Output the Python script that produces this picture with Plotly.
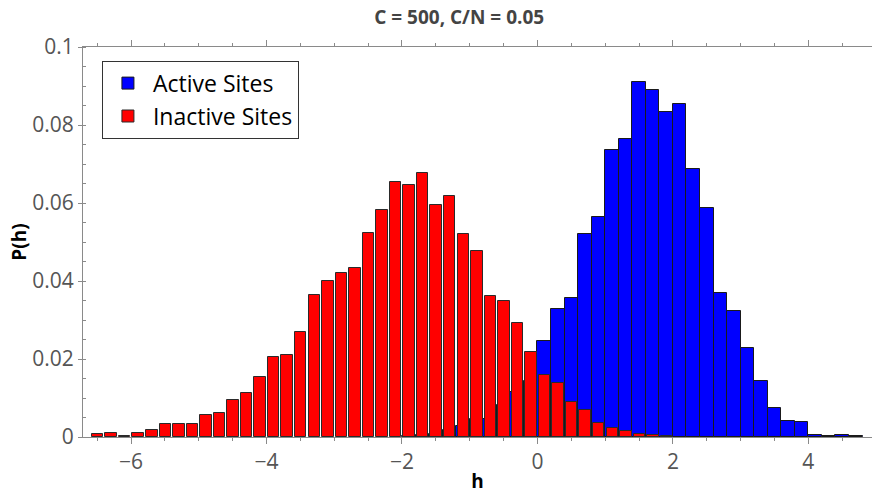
import plotly.graph_objects as go

# Active sites histogram (bin left edges, bin width 0.2)
active_bins = [-2.0, -1.8, -1.6, -1.4, -1.2, -1.0, -0.8, -0.6, -0.4, -0.2,
               0.0, 0.2, 0.4, 0.6, 0.8, 1.0, 1.2, 1.4, 1.6, 1.8,
               2.0, 2.2, 2.4, 2.6, 2.8, 3.0, 3.2, 3.4, 3.6, 3.8,
               4.0, 4.2, 4.4, 4.6]
active_vals = [0.0002, 0.0004, 0.0008, 0.0017, 0.0028, 0.0046, 0.0047, 0.0082, 0.0116, 0.0144,
               0.0245, 0.0327, 0.0357, 0.0521, 0.0565, 0.0736, 0.0765, 0.0911, 0.0891, 0.0834,
               0.0855, 0.0687, 0.0587, 0.0368, 0.0322, 0.0229, 0.0144, 0.0075, 0.0041, 0.0038,
               0.0005, 0.0003, 0.0005, 0.0002]

# Inactive sites histogram (bin left edges, bin width 0.2)
inactive_bins = [-6.6, -6.4, -6.2, -6.0, -5.8, -5.6, -5.4, -5.2, -5.0, -4.8,
                 -4.6, -4.4, -4.2, -4.0, -3.8, -3.6, -3.4, -3.2, -3.0, -2.8,
                 -2.6, -2.4, -2.2, -2.0, -1.8, -1.6, -1.4, -1.2, -1.0, -0.8,
                 -0.6, -0.4, -0.2, 0.0, 0.2, 0.4, 0.6, 0.8, 1.0, 1.2,
                 1.4, 1.6, 1.8]
inactive_vals = [0.0007, 0.0010, 0.0003, 0.0010, 0.0018, 0.0034, 0.0034, 0.0033, 0.0056, 0.0061,
                 0.0096, 0.0114, 0.0153, 0.0204, 0.0209, 0.0270, 0.0363, 0.0399, 0.0421, 0.0434,
                 0.0522, 0.0582, 0.0654, 0.0647, 0.0676, 0.0596, 0.0618, 0.0521, 0.0476, 0.0361,
                 0.0348, 0.0293, 0.0219, 0.0158, 0.0138, 0.0090, 0.0069, 0.0035, 0.0022, 0.0015,
                 0.0007, 0.0006, 0.0003]

title_text = "C = 500, C/N = 0.05"
x_title = "h"
y_title = "P(h)"

FONT = "Open Sans"
AXIS_GRAY = "#8a8a8a"

fig = go.Figure()
fig.add_trace(go.Bar(
    x=active_bins, y=active_vals, name="Active Sites",
    width=0.2, offset=0.0,
    marker=dict(color="#0000ff", line=dict(color="#1a1a1a", width=1)),
))
fig.add_trace(go.Bar(
    x=inactive_bins, y=inactive_vals, name="Inactive Sites",
    width=0.17, offset=0.02,
    marker=dict(color="#ff0000", line=dict(color="#2a2a2a", width=1)),
))

fig.update_layout(
    width=872, height=494,
    margin=dict(l=83, r=0, t=47, b=57),
    barmode="overlay",
    plot_bgcolor="white", paper_bgcolor="white",
    font=dict(family=FONT, color="#555555"),
    title=dict(text="<b>" + title_text + "</b>", x=0.5266, xanchor="center",
               y=0.965, yanchor="middle",
               font=dict(family=FONT, size=19, color="#444444")),
    legend=dict(x=0.024, y=0.965, xanchor="left", yanchor="top",
                bgcolor="white", bordercolor="#333333", borderwidth=1,
                font=dict(family=FONT, size=23, color="black"),
                itemwidth=40, tracegroupgap=0),
    bargap=0,
)

fig.update_xaxes(
    range=[-6.71, 4.94],
    tick0=0, dtick=2,
    showgrid=False, zeroline=False,
    showline=True, linecolor=AXIS_GRAY, linewidth=1,
    mirror="allticks",
    ticks="outside", ticklen=6, tickcolor=AXIS_GRAY, tickwidth=1,
    minor=dict(dtick=0.5, ticks="outside", ticklen=3, tickcolor=AXIS_GRAY, showgrid=False),
    tickfont=dict(family=FONT, size=21, color="#555555"),
    title=dict(text="<b>" + x_title + "</b>", standoff=6,
               font=dict(family=FONT, size=19, color="black")),
)
fig.update_yaxes(
    range=[0, 0.1],
    tick0=0, dtick=0.02,
    showgrid=False, zeroline=False,
    showline=True, linecolor=AXIS_GRAY, linewidth=1,
    ticks="outside", ticklen=4, tickcolor=AXIS_GRAY, tickwidth=1,
    minor=dict(dtick=0.005, ticks="inside", ticklen=3, tickcolor=AXIS_GRAY, showgrid=False),
    tickfont=dict(family=FONT, size=21, color="#555555"),
    title=dict(text="<b>" + y_title + "</b>", standoff=0,
               font=dict(family=FONT, size=19, color="black")),
)

fig.write_html("out.html")
